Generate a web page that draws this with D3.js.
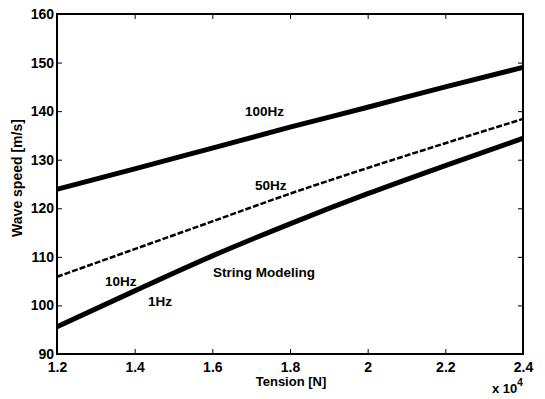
<!DOCTYPE html>
<html>
<head>
<meta charset="utf-8">
<script src="https://cdn.jsdelivr.net/npm/d3@7"></script>
<style>
  body { margin: 0; background: #fff; }
  text { font-family: "Liberation Sans", Arial, sans-serif; font-weight: bold; fill: #000; }
</style>
</head>
<body>
<div id="chart"></div>
<script>
// tension (x 10^4 N)
var tension = [1.2, 1.4, 1.6, 1.8, 2.0, 2.2, 2.4];
var speed100 = [123.9, 128.1, 132.4, 136.7, 140.8, 145.0, 149.0];
var speed50 = [105.9, 111.6, 117.3, 123.0, 128.3, 133.4, 138.4];
var speed1 = [95.6, 103.0, 110.2, 116.8, 123.0, 128.8, 134.4];
var xTicks = [1.2, 1.4, 1.6, 1.8, 2, 2.2, 2.4];
var yTicks = [90, 100, 110, 120, 130, 140, 150, 160];

var w = 545, h = 399,
    margin = { top: 14, right: 22, bottom: 45, left: 57 },
    innerW = w - margin.left - margin.right,
    innerH = h - margin.top - margin.bottom;

var svg = d3.select("#chart").append("svg")
    .attr("width", w)
    .attr("height", h);

var x = d3.scaleLinear().domain([1.2, 2.4]).range([margin.left, margin.left + innerW]);
var y = d3.scaleLinear().domain([90, 160]).range([margin.top + innerH, margin.top]);

var fmt = function(d) { return d3.format("")(+d.toFixed(1)); };

// axes, ticks inward on all four sides
svg.append("g")
    .attr("transform", "translate(0," + y(90) + ")")
    .call(d3.axisBottom(x).tickValues(xTicks).tickSizeInner(-5).tickSizeOuter(0).tickPadding(8).tickFormat(fmt));
svg.append("g")
    .attr("transform", "translate(0," + y(160) + ")")
    .call(d3.axisTop(x).tickValues(xTicks).tickSizeInner(-5).tickSizeOuter(0).tickFormat(""));
svg.append("g")
    .attr("transform", "translate(" + x(1.2) + ",0)")
    .call(d3.axisLeft(y).tickValues(yTicks).tickSizeInner(-5).tickSizeOuter(0).tickPadding(3));
svg.append("g")
    .attr("transform", "translate(" + x(2.4) + ",0)")
    .call(d3.axisRight(y).tickValues(yTicks).tickSizeInner(-5).tickSizeOuter(0).tickFormat(""));

svg.selectAll(".domain").remove();
svg.selectAll(".tick line").attr("stroke", "#000").attr("stroke-width", 1);
svg.selectAll(".tick text").style("font-size", "14px").style("font-family", "Liberation Sans, Arial, sans-serif").style("font-weight", "bold");

// box
svg.append("rect")
    .attr("x", x(1.2)).attr("y", y(160))
    .attr("width", x(2.4) - x(1.2)).attr("height", y(90) - y(160))
    .attr("fill", "none").attr("stroke", "#000").attr("stroke-width", 2);

var line = d3.line()
    .x(function(d, i) { return x(tension[i]); })
    .y(function(d) { return y(d); })
    .curve(d3.curveMonotoneX);

svg.append("path").datum(speed100)
    .attr("d", line).attr("fill", "none").attr("stroke", "#000").attr("stroke-width", 5);
svg.append("path").datum(speed50)
    .attr("d", line).attr("fill", "none").attr("stroke", "#000").attr("stroke-width", 2.5)
    .attr("stroke-dasharray", "6,2");
svg.append("path").datum(speed1)
    .attr("d", line).attr("fill", "none").attr("stroke", "#000").attr("stroke-width", 5);

// curve labels
var labels = [
  { t: "100Hz", x: 245, y: 111 },
  { t: "50Hz", x: 255, y: 185 },
  { t: "10Hz", x: 105, y: 281 },
  { t: "1Hz", x: 148, y: 301 },
  { t: "String Modeling", x: 213, y: 272 }
];
svg.selectAll("text.lab").data(labels).enter().append("text")
    .attr("class", "lab")
    .attr("x", function(d) { return d.x; })
    .attr("y", function(d) { return d.y; })
    .attr("dy", "0.35em")
    .style("font-size", "13.5px")
    .text(function(d) { return d.t; });

// axis titles
svg.append("text")
    .attr("x", 291)
    .attr("y", 386)
    .attr("text-anchor", "middle")
    .style("font-size", "13px")
    .text("Tension [N]");

svg.append("text")
    .attr("transform", "translate(22,178) rotate(-90)")
    .attr("text-anchor", "middle")
    .style("font-size", "14px")
    .text("Wave speed [m/s]");

var exp = svg.append("text")
    .attr("x", 492)
    .attr("y", 393)
    .style("font-size", "13px");
exp.append("tspan").text("x 10");
exp.append("tspan").attr("dy", -7).style("font-size", "10px").text("4");
</script>
</body>
</html>
